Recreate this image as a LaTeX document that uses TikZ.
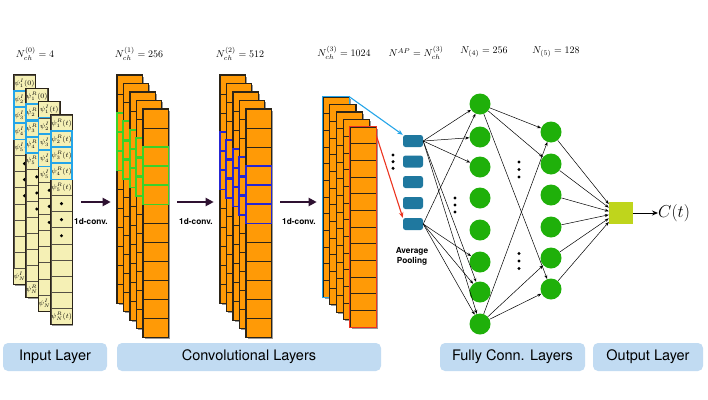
\documentclass[tikz,border=0pt]{standalone}
\usepackage{fontspec}
\setsansfont{TeX Gyre Heros}
\usepackage{xcolor}
\usepackage{tikz}
\usetikzlibrary{arrows.meta,positioning,calc}
\definecolor{cream}{HTML}{F5F0B5}
\definecolor{orng}{HTML}{FF9A06}
\definecolor{ink}{HTML}{2B2418}
\definecolor{cyanhl}{HTML}{25A5E8}
\definecolor{greenhl}{HTML}{3AD22A}
\definecolor{bluehl}{HTML}{2626D2}
\definecolor{redhl}{HTML}{EC3420}
\definecolor{poolc}{HTML}{1F789F}
\definecolor{leaf}{HTML}{1FB00A}
\definecolor{limeout}{HTML}{BFD51C}
\definecolor{plum}{HTML}{2E1131}
\definecolor{sky}{HTML}{C1DBF2}

\begin{document}
\begin{tikzpicture}[x=1pt,y=-1pt,
  incell/.style={draw=ink!80,fill=cream,line width=0.45pt,minimum width=21pt,minimum height=16.1pt,inner sep=0pt,font=\fontsize{7.2}{8}\selectfont},
  ocell/.style={draw=ink,fill=orng,line width=0.6pt,minimum width=25pt,minimum height=19pt,inner sep=0pt},
  scell/.style={ocell,minimum width=26pt,minimum height=16.67pt},
  hl/.style={line width=1.6pt},
  colb/.style={draw=ink,line width=0.8pt},
  shade/.style={fill=black!40},
  pool/.style={fill=poolc,rounded corners=2.5pt,minimum width=20pt,minimum height=12pt,inner sep=0pt},
  neur/.style={circle,fill=leaf,minimum size=21pt,inner sep=0pt},
  blip/.style={circle,fill=black,inner sep=0pt,minimum size=3.4pt},
  arr/.style={-{Stealth[length=4pt,width=3pt]},line width=0.5pt},
  hlarr/.style={-{Stealth[length=5.5pt,width=4.5pt]},line width=1.1pt},
  convarr/.style={-{Triangle[length=8pt,width=8pt]},color=plum,line width=2.3pt,shorten <=9pt,shorten >=6pt},
  lab/.style={font=\sffamily\bfseries\fontsize{8.3}{10}\selectfont,align=center},
  toplab/.style={font=\fontsize{10}{12}\selectfont},
  band/.style={fill=sky,rounded corners=5pt,minimum height=28pt,inner sep=0pt,font=\sffamily\fontsize{14.5}{16}\selectfont}]
  \useasboundingbox (0,0) rectangle (708,399);

  \foreach \c/\x/\y/\s/\arga in {1/14/75/I/0,2/26.3/88.3/R/0,3/38.7/101.7/I/t,4/51/115/R/t}{
    \fill[shade] (\x+1.2,\y+1.2) rectangle (\x+22.2,\y+210.5);
    \foreach \k in {1,...,5} \node[incell] (in\c-\k) at (\x+10.5,\y+16.1*\k-8.05) {$\psi^{\s}_{\k}(\arga)$};
    \foreach \k in {6,...,12} \node[incell] (in\c-\k) at (\x+10.5,\y+16.1*\k-8.05) {};
    \foreach \k in {6,7,8} \node[blip] (in\c-d\k) at (in\c-\k) {};
    \node[incell] (in\c-13) at (\x+10.5,\y+201.25) {$\psi^{\s}_{N}(\arga)$};
    \draw[colb] (in\c-1.north west) rectangle (in\c-13.south east);
    \foreach \k in {2,3,4} \draw[hl,cyanhl] (in\c-\k.north west) rectangle (in\c-\k.south east);
  }

  \foreach \c/\x/\y in {1/117/75,2/123.5/83.5,3/130/92,4/136.5/100.5,5/143/109}{
    \fill[shade] (\x+1.5,\y+1.5) rectangle (\x+26.5,\y+229.5);
    \foreach \k in {1,...,12} \node[ocell] (ca\c-\k) at (\x+12.5,\y+19*\k-9.5) {};
    \draw[colb] (ca\c-1.north west) rectangle (ca\c-12.south east);
    \foreach \k in {3,4,5} \draw[hl,greenhl] (ca\c-\k.north west) rectangle (ca\c-\k.south east);
  }
  \foreach \c/\x/\y in {1/220/75,2/226.5/83.5,3/233/92,4/239.5/100.5,5/246/109}{
    \fill[shade] (\x+1.5,\y+1.5) rectangle (\x+26.5,\y+229.5);
    \foreach \k in {1,...,12} \node[ocell] (cb\c-\k) at (\x+12.5,\y+19*\k-9.5) {};
    \draw[colb] (cb\c-1.north west) rectangle (cb\c-12.south east);
    \foreach \k in {4,5,6} \draw[hl,bluehl] (cb\c-\k.north west) rectangle (cb\c-\k.south east);
  }
  \foreach \c/\x/\y/\col/\lw in {1/323/97/cyanhl/1.5,2/329.75/104.5/ink/0.8,3/336.5/112/ink/0.8,4/343.25/119.5/ink/0.8,5/350/127/redhl/1.5}{
    \fill[shade] (\x+1.5,\y+1.5) rectangle (\x+27.5,\y+201.5);
    \foreach \k in {1,...,12} \node[scell] (cc\c-\k) at (\x+13,\y+16.67*\k-8.33) {};
    \draw[draw=\col,line width=\lw pt] (cc\c-1.north west) rectangle (cc\c-12.south east);
  }

  \coordinate (row) at (0,202);
  \draw[convarr] (in4-6.east |- row) -- (ca1-6.west |- row);
  \draw[convarr] (ca5-6.east |- row) -- (cb1-6.west |- row);
  \draw[convarr] (cb5-6.east |- row) -- (cc1-6.west |- row);
  \node[lab] (cv1) at (91,222) {1d-conv.};
  \node[lab] (cv2) at (196,222) {1d-conv.};
  \node[lab] (cv3) at (299,222) {1d-conv.};

  \foreach \i/\y in {1/141,2/161.5,3/182,4/203,5/224} \node[pool] (ap\i) at (413,\y) {};
  \foreach \d [count=\j] in {155,161.7,168.3} \node[blip] (pd\j) at (393,\d) {};
  \node[lab] (aplab) at (412,256) {Average\\Pooling};
  \draw[hlarr,cyanhl] (cc1-1.north east) -- (ap1.north west);
  \draw[hlarr,redhl] (cc5-1.east) -- (ap5.north west);

  \foreach \i/\y in {1/104,2/137,3/167,4/198,5/230,6/262,7/292,8/324} \node[neur] (h\i) at (480,\y) {};
  \foreach \i/\y in {1/132,2/164,3/195,4/227,5/258,6/289} \node[neur] (g\i) at (551,\y) {};
  \foreach \d [count=\j] in {198,205,212} \node[blip] (hd\j) at (455,\d) {};
  \foreach \d [count=\j] in {162,169.5,177} \node[blip] (ga\j) at (519,\d) {};
  \foreach \d [count=\j] in {253.5,261,268.5} \node[blip] (gb\j) at (519,\d) {};
  \node[fill=limeout,minimum width=24pt,minimum height=22pt,inner sep=0pt] (out) at (621,213) {};
  \node[anchor=west,inner sep=0pt,font=\fontsize{16}{18}\selectfont] (ct) at (658,213) {$C(t)$};

  \foreach \j in {1,2,3,7,8} \draw[arr] (ap1.east) -- (h\j);
  \foreach \j in {1,6,7,8} \draw[arr] (ap5.east) -- (h\j);
  \foreach \j in {1,2,6} \draw[arr] (h1) -- (g\j);
  \foreach \j in {1,5,6} \draw[arr] (h8) -- (g\j);
  \foreach \i in {1,...,6} \draw[arr] (g\i) -- ($(out.north west)!{0.1+0.16*(\i-1)}!(out.south west)$);
  \draw[-{Stealth[length=6pt,width=5pt]},line width=0.9pt] (out) -- (ct);

  \node[toplab] (n0) at (35,54) {$N^{(0)}_{ch}=4$};
  \node[toplab] (n1) at (139,54) {$N^{(1)}_{ch}=256$};
  \node[toplab] (n2) at (240,54) {$N^{(2)}_{ch}=512$};
  \node[toplab] (n3) at (344,53) {$N^{(3)}_{ch}=1024$};
  \node[toplab] (nap) at (416,53) {$N^{AP}=N^{(3)}_{ch}$};
  \node[toplab] (n4) at (484,52) {$N_{(4)}=256$};
  \node[toplab] (n5) at (556,52) {$N_{(5)}=128$};

  \node[band,minimum width=104pt] (b1) at (55,357) {Input Layer};
  \node[band,minimum width=264pt] (b2) at (249,357) {Convolutional Layers};
  \node[band,minimum width=145pt] (b3) at (512.5,357) {Fully Conn. Layers};
  \node[band,minimum width=110pt] (b4) at (648,357) {Output Layer};
\end{tikzpicture}
\end{document}
